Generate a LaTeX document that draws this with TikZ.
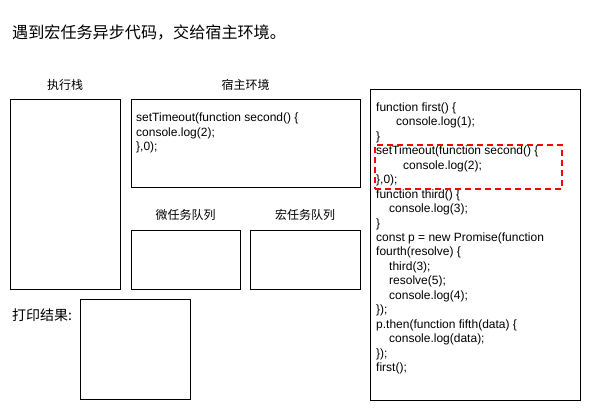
\documentclass[tikz,border=0pt]{standalone}
\usepackage{fontspec}
\setmainfont{Liberation Sans}
\newfontfamily\cjk{Noto Sans CJK SC}
\usetikzlibrary{positioning}

\tikzset{
  pane/.style={draw, line width=1pt, anchor=north west, inner sep=0pt, outer sep=0pt},
  caption/.style={font=\cjk\fontsize{12}{14}\selectfont, inner sep=0pt},
  codeline/.style={font=\fontsize{12}{14.4}\selectfont, anchor=base west, inner sep=0pt},
  hilite/.style={draw=red, line width=2pt, dash pattern=on 6pt off 4pt, anchor=north west, inner sep=0pt}
}

\begin{document}
\begin{tikzpicture}[x=1pt,y=-1pt]
  \useasboundingbox (0,0) rectangle (591,411);
  % title
  \node[font=\cjk\fontsize{16.1}{18}\selectfont, anchor=west, inner sep=0pt] (title) at (12,33) {遇到宏任务异步代码，交给宿主环境。};
  % boxes
  \node[pane, minimum width=110pt, minimum height=190pt] (stack) at (10,100) {};
  \node[pane, minimum width=229pt, minimum height=88pt] (host) at (131,100) {};
  \node[pane, minimum width=109pt, minimum height=59pt] (micro) at (131,231) {};
  \node[pane, minimum width=110pt, minimum height=59pt] (macro) at (250,231) {};
  \node[pane, minimum width=110pt, minimum height=99pt] (print) at (80,300) {};
  \node[pane, minimum width=210pt, minimum height=310pt] (code) at (370,90) {};
  % labels
  \node[caption] (stacklbl) at ([yshift=15pt]stack.north) {执行栈};
  \node[caption] (hostlbl) at ([yshift=15pt]host.north) {宿主环境};
  \node[caption] (microlbl) at ([yshift=16pt]micro.north) {微任务队列};
  \node[caption] (macrolbl) at ([yshift=16pt]macro.north) {宏任务队列};
  \node[caption, font=\cjk\fontsize{14}{16}\selectfont, anchor=west] (printlbl) at (12,315) {打印结果:};
  % host environment text
  \foreach \txt [count=\i] in {{setTimeout(function second() \{}, {console.log(2);}, {\},0);}}
    \node[codeline] (host\i) at (136,{122+14.4*(\i-1)}) {\txt};
  % source code
  \foreach \ind/\txt [count=\i] in {0/{function first() \{}, 20/{console.log(1);}, 0/{\}},
      0/{setTimeout(function second() \{}, 27/{console.log(2);}, 0/{\},0);},
      0/{function third() \{}, 13/{console.log(3);}, 0/{\}},
      0/{const p = new Promise(function}, 0/{fourth(resolve) \{}, 13/{third(3);},
      13/{resolve(5);}, 13/{console.log(4);}, 0/{\});},
      0/{p.then(function fifth(data) \{}, 13/{console.log(data);}, 0/{\});}, 0/{first();}}
    \node[codeline] (code\i) at ({376+\ind},{111.5+14.45*(\i-1)}) {\txt};
  % highlighted setTimeout
  \node[hilite, minimum width=187pt, minimum height=44pt] (mark) at (374,144) {};
\end{tikzpicture}
\end{document}
